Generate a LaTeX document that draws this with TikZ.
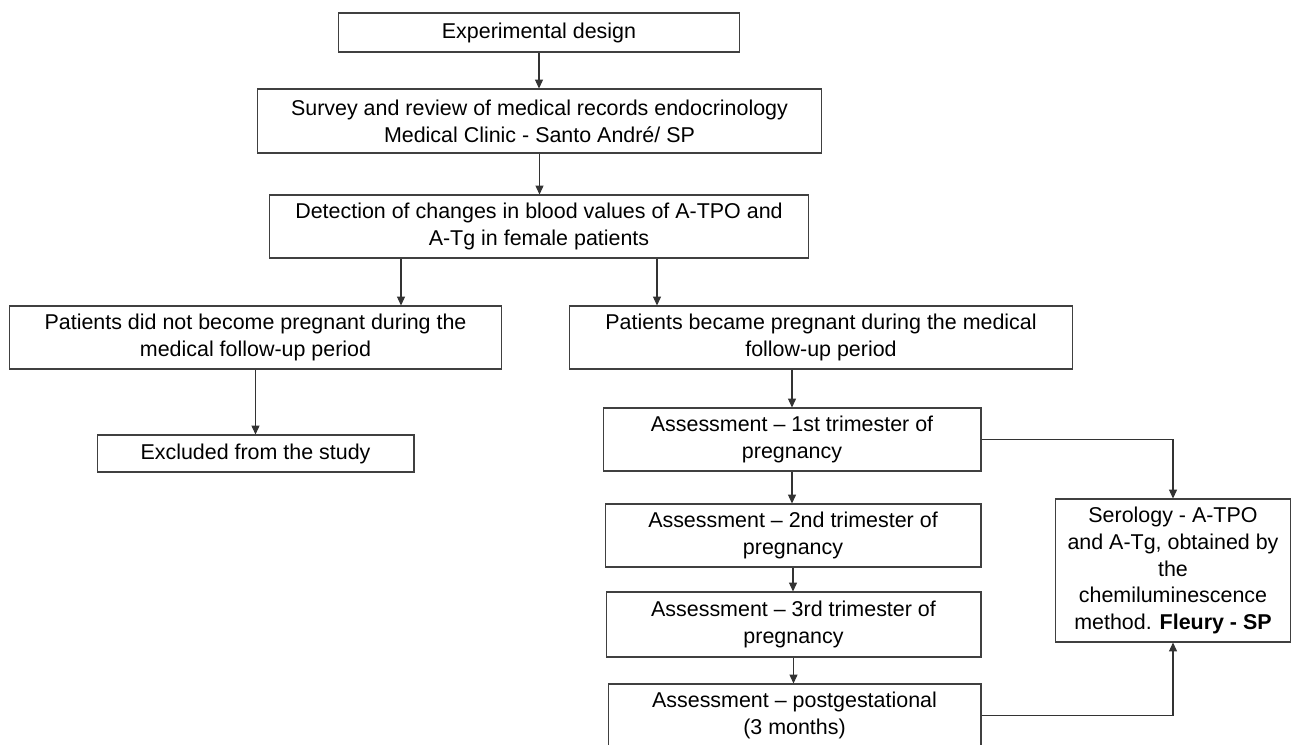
\documentclass[tikz,border=0pt]{standalone}
\usepackage{fontspec}
\setmainfont{Liberation Sans}
\usetikzlibrary{arrows.meta,positioning,calc}
\tikzset{
  fbox/.style={rectangle,draw=black!75,line width=0.6pt,inner sep=0pt,
               align=center,font=\fontsize{12.2}{15.3}\selectfont},
  arr/.style={-{Triangle[length=5pt,width=4.5pt]},line width=0.6pt,black!80},
}

\begin{document}
\begin{tikzpicture}[x=0.02cm,y=-0.02cm]
  \useasboundingbox (0,0) rectangle (1291,744);

  % main column
  \node[fbox,minimum width=8.04cm,minimum height=0.78cm] (design) at (539,32.5)
    {Experimental design};
  \node[fbox,minimum width=11.3cm,minimum height=1.28cm] (survey) at (539.5,121)
    {Survey and review of medical records endocrinology\\Medical Clinic - Santo André/ SP};
  \node[fbox,minimum width=10.8cm,minimum height=1.26cm] (detect) at (539,226.5)
    {Detection of changes in blood values of A-TPO and\\A-Tg in female patients};

  % the two branches
  \node[fbox,minimum width=9.86cm,minimum height=1.26cm] (notpreg) at (255.5,337.5)
    {Patients did not become pregnant during the\\medical follow-up period};
  \node[fbox,minimum width=10.08cm,minimum height=1.26cm] (preg) at (821,337.5)
    {Patients became pregnant during the medical\\follow-up period};
  \node[fbox,minimum width=6.34cm,minimum height=0.74cm] (excl) at (255.5,453.5)
    {Excluded from the study};

  % assessments
  \node[fbox,minimum width=7.56cm,minimum height=1.26cm] (tri1) at (792,439.5)
    {Assessment -- 1st trimester of\\pregnancy};
  \node[fbox,minimum width=7.52cm,minimum height=1.26cm] (tri2) at (793,535.5)
    {Assessment -- 2nd trimester of\\pregnancy};
  \node[fbox,minimum width=7.5cm,minimum height=1.3cm] (tri3) at (793.5,624.5)
    {Assessment -- 3rd trimester of\\pregnancy};
  \node[fbox,minimum width=7.46cm,minimum height=1.26cm] (post) at (794.5,715.5)
    {Assessment -- postgestational\\(3 months)};
  \node[fbox,minimum width=4.72cm,minimum height=2.86cm] (sero) at (1173,570.5)
    {Serology - A-TPO\\and A-Tg, obtained by\\the\\chemiluminescence\\method. \textbf{Fleury - SP}};

  \coordinate (lx) at (401,0);
  \coordinate (rx) at (657,0);

  \draw[arr] (design.south) -- (design.south |- survey.north);
  \draw[arr] (survey.south) -- (survey.south |- detect.north);
  \draw[arr] (detect.south -| lx) -- (notpreg.north -| lx);
  \draw[arr] (detect.south -| rx) -- (preg.north -| rx);
  \draw[arr] (notpreg.south) -- (notpreg.south |- excl.north);
  \draw[arr] (preg.south -| tri1.north) -- (tri1.north);
  \draw[arr] (tri1.south) -- (tri1.south |- tri2.north);
  \draw[arr] (tri2.south) -- (tri2.south |- tri3.north);
  \draw[arr] (tri3.south) -- (tri3.south |- post.north);
  \draw[arr] (tri1.east) -| (sero.north);
  \draw[arr] (post.east) -| (sero.south);
\end{tikzpicture}
\end{document}
